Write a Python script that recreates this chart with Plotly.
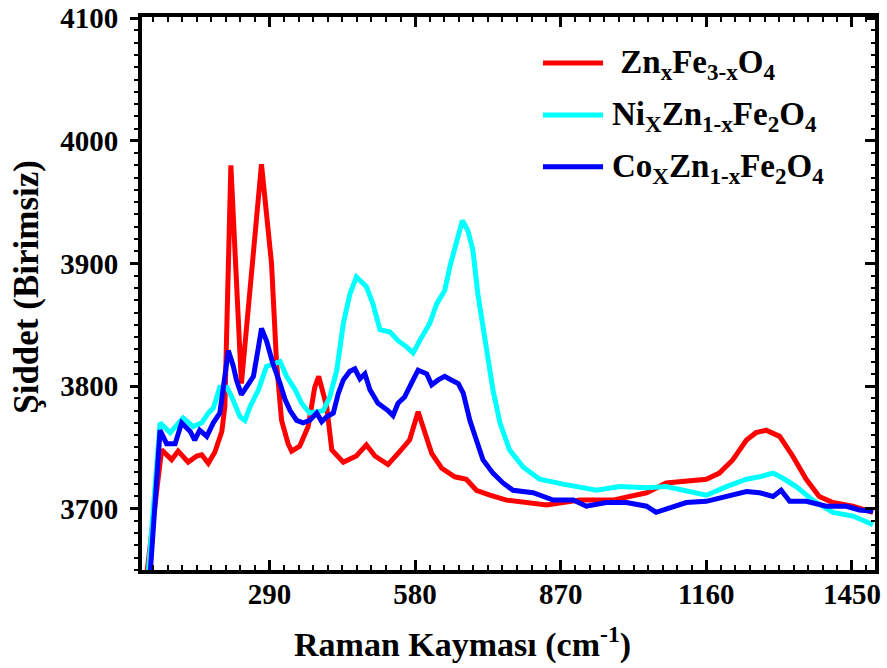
import plotly.graph_objects as go

# Zn_xFe_3-xO_4 (red)
zn_x = [45, 75, 95, 108, 128, 145, 155, 168, 181, 195, 201, 213, 234, 274, 294, 304, 314, 327, 334, 350,
        367, 380, 388, 404, 414, 437, 463, 483, 500, 526, 550, 569, 586, 599, 613, 633, 659, 682, 702, 729,
        762, 842, 908, 974, 1041, 1080, 1120, 1160, 1186, 1213, 1240, 1259, 1279, 1306, 1332, 1359, 1385,
        1412, 1452, 1492]
zn_y = [3645, 3748, 3740, 3747, 3738, 3743, 3744, 3737, 3746, 3763, 3783, 3980, 3802, 3981, 3900, 3819, 3772,
        3753, 3747, 3751, 3767, 3799, 3808, 3783, 3748, 3738, 3743, 3752, 3743, 3736, 3747, 3756, 3779, 3762,
        3745, 3733, 3726, 3724, 3715, 3711, 3707, 3703, 3707, 3707, 3713, 3721, 3722, 3724, 3729, 3740, 3756,
        3762, 3764, 3759, 3743, 3724, 3710, 3705, 3702, 3697]

# Ni_xZn_1-xFe_2O_4 (cyan)
ni_x = [48, 72, 92, 118, 138, 155, 168, 178, 191, 205, 215, 231, 241, 251, 268, 284, 311, 324, 341, 354,
        370, 397, 410, 424, 437, 450, 463, 483, 496, 510, 530, 546, 563, 576, 589, 609, 623, 639, 649, 659,
        666, 674, 685, 695, 705, 709, 722, 735, 749, 768, 795, 828, 875, 941, 987, 1041, 1080, 1120, 1160,
        1200, 1240, 1266, 1293, 1312, 1339, 1372, 1412, 1452, 1492]
ni_y = [3645, 3770, 3762, 3774, 3767, 3770, 3778, 3782, 3799, 3799, 3791, 3775, 3772, 3783, 3797, 3816, 3820,
        3808, 3797, 3786, 3778, 3780, 3791, 3813, 3851, 3875, 3889, 3881, 3867, 3846, 3844, 3837, 3832, 3827,
        3837, 3851, 3867, 3878, 3897, 3911, 3921, 3935, 3927, 3911, 3875, 3864, 3832, 3797, 3770, 3748, 3734,
        3724, 3720, 3715, 3718, 3717, 3718, 3715, 3711, 3718, 3724, 3726, 3729, 3725, 3718, 3707, 3697, 3694,
        3687]

# Co_xZn_1-xFe_2O_4 (blue)
co_x = [52, 72, 85, 102, 115, 132, 141, 151, 165, 178, 191, 201, 208, 218, 224, 234, 244, 258, 268, 274,
        284, 297, 311, 321, 331, 344, 357, 370, 384, 394, 404, 417, 427, 437, 450, 460, 470, 480, 490, 506,
        526, 536, 546, 559, 576, 586, 603, 613, 626, 639, 652, 666, 676, 689, 702, 715, 735, 755, 775, 815,
        855, 895, 921, 961, 1001, 1041, 1060, 1094, 1120, 1160, 1200, 1240, 1266, 1293, 1309, 1326, 1359,
        1399, 1439, 1465, 1492]
co_y = [3645, 3764, 3753, 3753, 3770, 3763, 3756, 3764, 3759, 3770, 3778, 3805, 3829, 3816, 3805, 3793, 3799,
        3808, 3832, 3847, 3837, 3818, 3802, 3789, 3780, 3772, 3770, 3772, 3778, 3771, 3775, 3778, 3794, 3805,
        3812, 3814, 3806, 3810, 3797, 3786, 3780, 3776, 3786, 3791, 3805, 3813, 3810, 3801, 3805, 3808, 3805,
        3802, 3794, 3772, 3756, 3740, 3729, 3721, 3715, 3713, 3707, 3707, 3702, 3705, 3705, 3702, 3697, 3702,
        3705, 3706, 3710, 3714, 3713, 3710, 3715, 3706, 3706, 3702, 3702, 3699, 3698]

names = ["\u00a0Zn<sub>x</sub>Fe<sub>3-x</sub>O<sub>4</sub>",
         "Ni<sub>X</sub>Zn<sub>1-x</sub>Fe<sub>2</sub>O<sub>4</sub>",
         "Co<sub>X</sub>Zn<sub>1-x</sub>Fe<sub>2</sub>O<sub>4</sub>"]
colors = ["#ff0000", "#00ffff", "#0000ff"]
x_ticks = [290, 580, 870, 1160, 1450]
y_ticks = [3700, 3800, 3900, 4000, 4100]
x_range = [36, 1496]
y_range = [3650, 4101]
x_title = "Raman Kayması (cm<sup>-1</sup>)"
y_title = "Şiddet (Birimsiz)"

FONT = "Liberation Serif"

fig = go.Figure()
for xs, ys, c in [(zn_x, zn_y, colors[0]), (ni_x, ni_y, colors[1]), (co_x, co_y, colors[2])]:
    fig.add_trace(go.Scatter(x=xs, y=ys, mode="lines", line=dict(color=c, width=5),
                             showlegend=False, hoverinfo="skip"))
# invisible trace so the right-hand overlay axis is drawn
fig.add_trace(go.Scatter(x=[None], y=[None], yaxis="y2", showlegend=False, hoverinfo="skip"))

# Manual legend
rows = [0.917, 0.823, 0.729]
for name, c, ry in zip(names, colors, rows):
    fig.add_shape(type="line", xref="paper", yref="paper", x0=0.547, x1=0.629, y0=ry, y1=ry,
                  line=dict(color=c, width=5))
    fig.add_annotation(xref="paper", yref="paper", x=0.638, y=ry - 0.003, xanchor="left", yanchor="middle",
                       text="<b>" + name + "</b>", showarrow=False,
                       font=dict(family=FONT, size=33, color="black"))

# Axis titles
fig.add_annotation(xref="paper", yref="paper", x=0.4366, y=-0.132, xanchor="center", yanchor="middle",
                   text="<b>" + x_title + "</b>", showarrow=False,
                   font=dict(family=FONT, size=34, color="black"))
fig.add_annotation(xref="paper", yref="paper", x=-0.157, y=0.512, xanchor="center", yanchor="middle",
                   text="<b>" + y_title + "</b>", textangle=-90, showarrow=False,
                   font=dict(family=FONT, size=35, color="black"))

fig.update_layout(
    width=887, height=668,
    margin=dict(l=142, r=12, t=17, b=98),
    paper_bgcolor="white", plot_bgcolor="white",
    font=dict(family=FONT, color="black"),
    xaxis=dict(range=x_range, tickvals=x_ticks, ticktext=[f"<b>{v}</b>" for v in x_ticks],
               ticks="inside", ticklen=10, tickwidth=3, tickcolor="black",
               showline=True, linewidth=4, linecolor="black", mirror="ticks",
               showgrid=False, zeroline=False, ticklabelstandoff=-5, automargin=False,
               tickfont=dict(family=FONT, size=29, color="black"),
               minor=dict(dtick=29, tick0=0, ticks="inside", ticklen=5, tickwidth=2, tickcolor="black")),
    yaxis=dict(range=y_range, tickvals=y_ticks, ticktext=[f"<b>{v}</b>" for v in y_ticks],
               ticks="outside", ticklen=8, tickwidth=3, tickcolor="black",
               showline=True, linewidth=4, linecolor="black", mirror=True,
               showgrid=False, zeroline=False, automargin=False, ticklabelstandoff=6,
               tickfont=dict(family=FONT, size=29, color="black"),
               minor=dict(dtick=10, tick0=0, ticks="outside", ticklen=4, tickwidth=2, tickcolor="black")),
    yaxis2=dict(range=y_range, overlaying="y", side="right", tickvals=y_ticks, showticklabels=False,
                ticks="inside", ticklen=10, tickwidth=3, tickcolor="black", showline=False,
                showgrid=False, zeroline=False, automargin=False,
                minor=dict(dtick=10, tick0=0, ticks="inside", ticklen=4, tickwidth=2, tickcolor="black")),
)

fig.write_html("out.html")
